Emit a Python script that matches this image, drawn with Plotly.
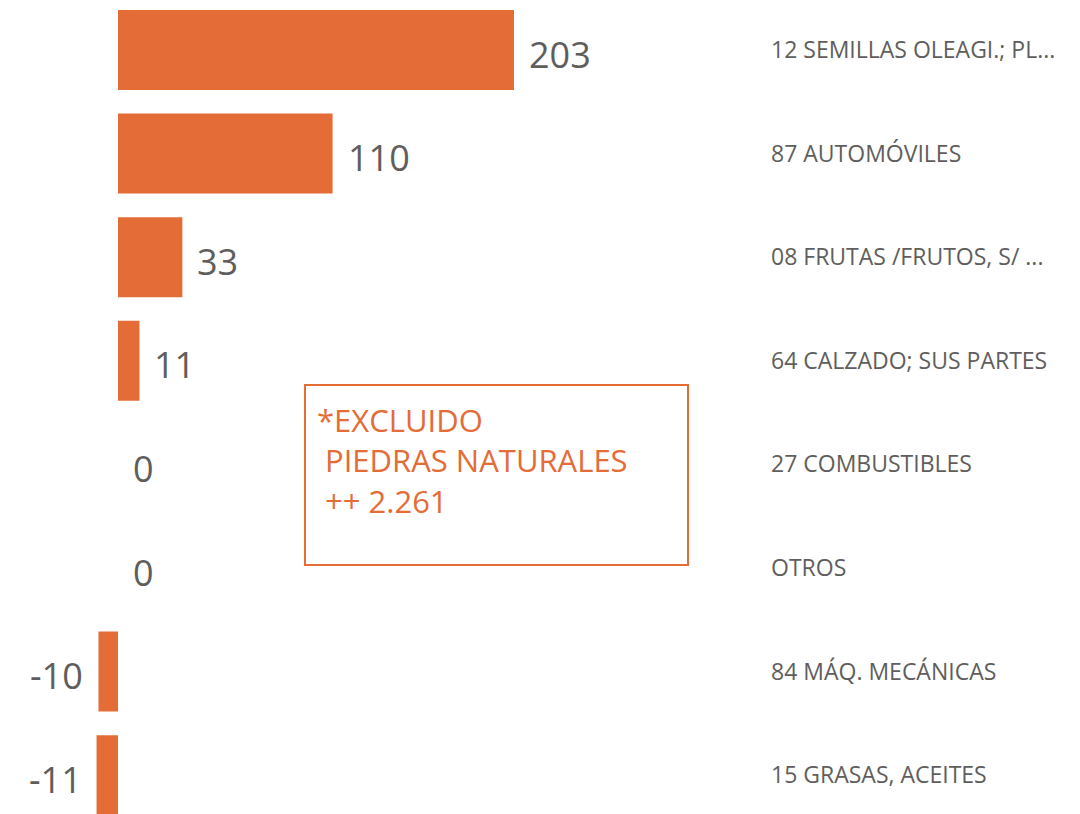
import plotly.graph_objects as go

categories = [
    "12 SEMILLAS OLEAGI.; PL...",
    "87 AUTOMÓVILES",
    "08 FRUTAS /FRUTOS, S/ ...",
    "64 CALZADO; SUS PARTES",
    "27 COMBUSTIBLES",
    "OTROS",
    "84 MÁQ. MECÁNICAS",
    "15 GRASAS, ACEITES",
]
values = [203, 110, 33, 11, 0, 0, -10, -11]
note_lines = ["*EXCLUIDO", "\u00a0PIEDRAS NATURALES", "\u00a0++ 2.261"]

ORANGE = "#E46C37"
GRAY = "#605E5C"
FONT = "Open Sans"

W, H = 1080, 814
OFF = 8  # page body margin
PLOT_R = 770 - OFF  # right edge of plot area in px (figure coords)

fig = go.Figure()
fig.add_trace(go.Bar(
    x=values, y=categories, orientation="h",
    marker=dict(color=ORANGE, line=dict(width=0)),
    width=0.772, hoverinfo="skip",
))

for c, v in zip(categories, values):
    fig.add_annotation(
        x=v, y=c, xref="x", yref="y", text=str(v), showarrow=False,
        xanchor="left" if v >= 0 else "right",
        xshift=13 if v >= 0 else -13, yshift=-4,
        font=dict(family=FONT, size=36, color=GRAY),
    )

# note box (screen px -> paper)
def px_x(p):
    return (p - OFF) / PLOT_R

def px_y(p):
    return 1 - (p - OFF) / H

fig.add_shape(type="rect", xref="paper", yref="paper",
              x0=px_x(305), x1=px_x(688), y0=px_y(565), y1=px_y(385),
              line=dict(color=ORANGE, width=2), fillcolor="rgba(0,0,0,0)")
fig.add_annotation(
    xref="paper", yref="paper", x=px_x(315), y=px_y(397),
    xanchor="left", yanchor="top", align="left", showarrow=False,
    text="<br>".join(note_lines),
    font=dict(family=FONT, size=31, color=ORANGE),
)

zero_px = 118 - OFF
scale = 396 / 203.0
# category centres on screen: 50 + 103.6*i -> figure px: minus OFF
c0 = 50 - OFF
pitch = 103.6
span = H / pitch
top = -c0 / pitch
bottom = top + span
fig.update_layout(
    width=W, height=H,
    margin=dict(l=0, r=W - PLOT_R, t=0, b=0),
    paper_bgcolor="white", plot_bgcolor="white",
    showlegend=False,
    xaxis=dict(range=[-zero_px / scale, (PLOT_R - zero_px) / scale],
               visible=False, fixedrange=True),
    yaxis=dict(categoryorder="array", categoryarray=categories,
               range=[bottom, top], side="right",
               showgrid=False, zeroline=False, showline=False, ticks="",
               tickfont=dict(family=FONT, size=23, color=GRAY),
               automargin=False),
)

fig.write_html("out.html")
